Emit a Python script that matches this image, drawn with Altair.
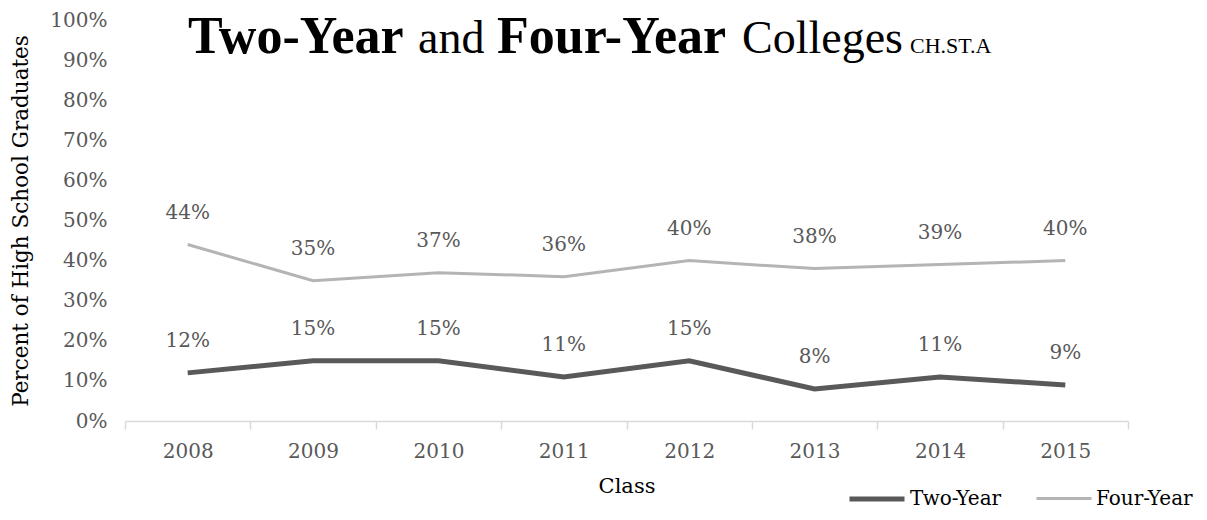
import altair as alt
import pandas as pd

years = ["2008", "2009", "2010", "2011", "2012", "2013", "2014", "2015"]
two_year = [12, 15, 15, 11, 15, 8, 11, 9]
four_year = [44, 35, 37, 36, 40, 38, 39, 40]
series = ["Two-Year", "Four-Year"]
colors = ["#595959", "#b4b4b4"]
widths = [5, 3]

rows = []
for y, t, f in zip(years, two_year, four_year):
    rows.append({"Class": y, "series": "Two-Year", "value": t / 100})
    rows.append({"Class": y, "series": "Four-Year", "value": f / 100})
df = pd.DataFrame(rows)

FONT = "DejaVu Serif"
TFONT = "Liberation Serif"

x = alt.X("Class:O", title="Class", sort=years,
          scale=alt.Scale(paddingInner=0, paddingOuter=0),
          axis=alt.Axis(labelAngle=0, labelFontSize=20, labelColor="#595959", labelFont=FONT,
                        titleFontSize=21, titleFont=FONT, titleColor="#000000", titleFontWeight="normal",
                        titlePadding=14, labelPadding=12, domainColor="#d9d9d9", tickColor="#d9d9d9",
                        tickSize=8, tickBand="extent", domainWidth=1.5, tickWidth=1.5))
y = alt.Y("value:Q", title="Percent of High School Graduates",
          scale=alt.Scale(domain=[0, 1], nice=False),
          axis=alt.Axis(format=".0%", values=[i / 10 for i in range(11)], labelFontSize=20,
                        labelColor="#595959", labelFont=FONT, domain=False, ticks=False, grid=False,
                        labelPadding=18, titleFontSize=21.5, titleFont=FONT, titleColor="#000000",
                        titleFontWeight="normal", titlePadding=17))

leg = dict(title=None, orient="none", legendX=722, legendY=449,
           direction="horizontal", symbolType="stroke", symbolSize=3025,
           labelFontSize=20, labelFont=FONT, labelColor="#000000",
           columnPadding=28, labelOffset=3)
color = alt.Color("series:N", scale=alt.Scale(domain=series, range=colors),
                  legend=alt.Legend(**leg))
sw = alt.StrokeWidth("series:N", scale=alt.Scale(domain=series, range=widths),
                     legend=alt.Legend(**leg))

lines = alt.Chart(df).mark_line().encode(x=x, y=y, color=color, strokeWidth=sw)

labels = alt.Chart(df).mark_text(dy=-32, fontSize=20, font=FONT, color="#595959").encode(
    x=alt.X("Class:O", sort=years), y="value:Q", text=alt.Text("value:Q", format=".0%"))

title_parts = pd.DataFrame({
    "t": ["Two-Year", "and", "Four-Year", "Colleges", "CH.ST.A"],
    "px": [63, 293, 372, 617, 785],
    "w": ["bold", "normal", "bold", "normal", "normal"],
    "s": [52, 46, 52, 46, 22],
})
titles = []
for _, r in title_parts.iterrows():
    titles.append(alt.Chart(pd.DataFrame({"t": [r.t]})).mark_text(
        align="left", baseline="alphabetic", font=TFONT,
        fontSize=int(r.s), fontWeight=r.w, color="#000000").encode(
        x=alt.value(int(r.px)), y=alt.value(33), text="t:N"))

chart = alt.layer(lines, labels, *titles).properties(
    width=1003, height=401,
    autosize=alt.AutoSizeParams(type="none"),
    padding={"left": 117, "top": 12, "right": 71, "bottom": 91},
    background="#ffffff",
).configure_view(stroke=None)

chart.save("out.html", embed_options={"renderer": "svg", "actions": False})
